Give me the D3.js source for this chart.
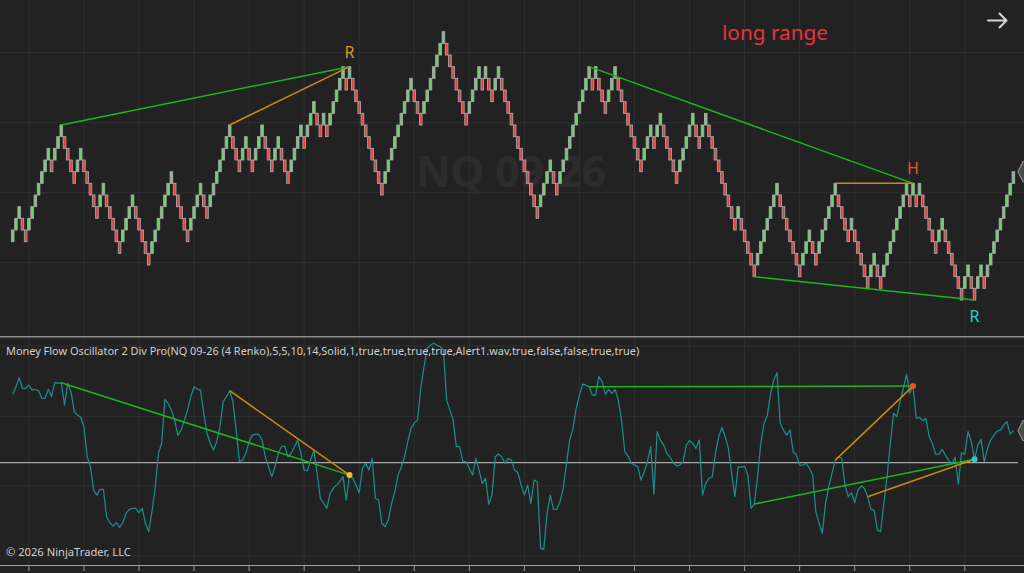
<!DOCTYPE html>
<html>
<head>
<meta charset="utf-8">
<script src="https://cdn.jsdelivr.net/npm/d3@7"></script>
<style>
  body { margin: 0; background: #222222; }
  svg { display: block; }
</style>
</head>
<body>
<svg id="chart" width="1024" height="573"></svg>
<script>
// renko brick tops (brick size = 1 level), one per bar
const brickTops = [
  91,92,93,92,91,92,93,94,95,96,97,98,97,98,99,100,99,98,97,96,
  97,98,97,96,95,94,93,94,95,94,93,92,91,90,91,92,93,94,93,92,
  91,90,89,90,91,92,93,94,95,96,95,94,93,92,91,92,93,94,95,94,
  93,94,95,96,97,98,99,100,99,98,97,98,99,98,97,98,99,100,99,98,
  97,98,99,98,97,96,97,98,99,100,99,100,101,102,101,100,101,100,101,102,
  103,104,105,104,105,104,103,102,101,100,99,98,97,96,95,96,97,98,99,100,
  101,102,103,104,103,102,101,102,103,104,105,106,107,108,107,106,105,104,103,102,
  101,102,103,104,105,104,105,104,103,104,105,104,103,102,101,100,99,98,97,96,
  95,94,93,94,95,96,97,96,95,96,97,98,99,100,101,102,103,104,105,104,
  105,104,103,102,103,104,105,104,103,102,101,100,99,98,97,98,99,100,99,100,
  101,100,99,98,97,96,97,98,99,100,101,100,99,100,101,100,99,98,97,96,
  95,94,93,92,93,92,91,90,89,88,89,90,91,92,93,94,95,94,93,92,
  91,90,89,88,89,90,91,90,89,90,91,92,93,94,95,94,93,92,91,92,
  91,90,89,88,87,88,89,88,87,88,89,90,91,92,93,94,95,94,95,94,
  95,94,93,92,91,90,91,92,91,90,89,88,87,86,87,88,87,86,87,88,
  87,88,89,90,91,92,93,94,95,96
];

// money flow oscillator, one value per bar
const oscValues = [
  34.2,38.0,42.5,37.2,37.2,38.8,36.3,36.7,36.0,32.2,
  32.2,36.7,33.0,40.2,39.7,40.0,28.8,39.7,35.5,25.5,
  23.8,22.7,18.0,3.0,-2.0,-13.7,-16.2,-13.3,-13.3,-27.0,
  -30.0,-31.7,-30.0,-32.3,-30.0,-25.3,-23.3,-22.8,-22.8,-25.0,
  -22.8,-30.3,-34.5,-24.5,-12.8,4.7,9.7,31.7,29.7,26.3,
  21.3,13.8,16.3,21.3,26.3,33.0,38.0,36.7,36.3,24.7,
  14.7,9.7,6.3,10.5,18.0,30.5,33.0,36.0,30.5,16.3,
  0.5,1.3,4.7,10.5,13.8,14.3,14.2,11.3,3.0,-2.0,
  -7.0,-2.0,4.7,8.0,8.3,3.0,4.7,8.0,11.3,4.7,
  -3.7,-4.0,1.3,6.3,-5.3,-17.8,-20.3,-22.8,-15.3,-12.8,
  -11.2,-9.5,-7.0,-18.7,-6.2,-7.8,-11.2,-15.0,-2.8,-0.3,
  -3.7,2.2,-17.8,-18.7,-30.3,-32.0,-28.7,-20.3,-14.5,-6.2,
  -2.0,3.0,10.5,17.2,19.7,21.3,37.2,48.0,57.2,58.8,
  59.7,58.8,58.0,56.3,31.3,26.3,21.3,8.0,8.0,0.5,
  0.5,-2.8,-6.2,2.2,-3.7,-10.3,-7.8,-20.7,-16.2,3.0,
  4.3,3.0,-0.3,2.2,1.3,-3.7,-5.0,-11.2,-16.2,-11.2,
  -20.3,-8.7,-9.5,-42.8,-43.3,-25.3,-16.2,-23.3,-23.3,-19.5,
  -12.8,-0.3,11.3,17.2,27.2,33.8,39.3,38.8,38.0,33.8,
  33.8,43.0,40.5,34.2,36.7,34.7,36.7,31.3,21.3,5.5,
  3.3,-0.3,-1.2,-2.0,-8.7,-4.5,0.5,8.0,-15.7,15.5,
  11.3,8.8,4.7,2.7,0.0,-1.7,-1.2,0.5,8.8,11.0,
  9.7,7.2,11.3,-16.2,-10.3,-7.8,-7.0,4.7,13.0,17.7,
  13.0,7.2,-5.3,-17.0,-2.0,-2.3,-1.7,-6.2,-22.8,-20.7,
  -7.0,9.7,19.7,23.5,34.3,41.3,45.0,19.7,16.3,13.8,
  16.3,5.5,3.8,-1.2,-1.2,-0.3,-2.8,-6.2,-24.5,-30.3,
  -35.3,-20.3,-12.0,-5.3,1.3,3.0,2.2,-11.2,-17.0,-15.0,
  -20.0,-13.7,-11.7,-12.8,-17.0,-23.3,-23.7,-33.7,-34.5,-20.3,
  -7.0,9.7,24.7,23.0,30.5,37.2,44.3,34.7,38.3,22.2,
  22.7,21.0,22.2,13.0,9.7,4.3,4.3,6.7,3.8,1.3,
  -0.7,2.7,-10.7,5.0,4.3,15.5,10.5,1.7,8.8,11.7,
  0.5,7.2,11.3,13.8,15.8,16.3,18.8,20.5,14.3,16.0
];

const timeGridBars = [6,23,40,57,74,91,108,125,142,159,176,193,210,227,244,261,278,295];
const priceGridLevels = [88.2, 94.2, 100.2, 106.2];
const oscGridLevels = [-46.65, -11.65, 23, 58.35];

// divergences: bar numbers (1-based)
const priceDivs = [
  {from: 16,  to: 105, kind: "regular", side: "high"},
  {from: 68,  to: 105, kind: "hidden",  side: "high"},
  {from: 179, to: 279, kind: "regular", side: "high"},
  {from: 255, to: 279, kind: "hidden",  side: "high"},
  {from: 230, to: 298, kind: "regular", side: "low"}
];
const oscDivs = [
  {from: 16,  to: 105, kind: "regular"},
  {from: 68,  to: 105, kind: "hidden"},
  {from: 179, to: 279, kind: "regular"},
  {from: 255, to: 279, kind: "hidden"},
  {from: 230, to: 298, kind: "regular"},
  {from: 265, to: 298, kind: "hidden"}
];
const signals = [
  {bar: 105, label: "R", type: "bearReg"},
  {bar: 279, label: "H", type: "bearHid"},
  {bar: 298, label: "R", type: "bullReg"}
];

const FONT = "'Noto Sans', 'Open Sans', sans-serif";
const divColor = {regular: "#1cb51c", hidden: "#c98a12"};
const sigColor = {bearReg: "#cf9a22", bearHid: "#f2541c", bullReg: "#22d2d2"};

const svg = d3.select("#chart");
const W = 1024, H = 573;

svg.append("rect").attr("width", W).attr("height", H).attr("fill", "#222222");

const x = d3.scaleLinear().domain([1, brickTops.length]).range([12.7, 1013.4]);
const yP = d3.scaleLinear().domain([100, 85]).range([125, 300]);
const yO = d3.scaleLinear().domain([0, 50]).range([462.7, 362.7]);

const topPanel = {y0: 0, y1: 335};
const oscPanel = {y0: 338, y1: 565};

const defs = svg.append("defs");
defs.append("clipPath").attr("id", "clipTop")
  .append("rect").attr("x", 0).attr("y", topPanel.y0).attr("width", W).attr("height", topPanel.y1 - topPanel.y0);
defs.append("clipPath").attr("id", "clipOsc")
  .append("rect").attr("x", 0).attr("y", oscPanel.y0).attr("width", W).attr("height", oscPanel.y1 - oscPanel.y0);

// grid
const grid = svg.append("g").attr("stroke", "#2f2f2f").attr("stroke-width", 1);
grid.selectAll(".vt").data(timeGridBars).enter().append("line")
  .attr("x1", d => x(d)).attr("x2", d => x(d))
  .attr("y1", topPanel.y0).attr("y2", topPanel.y1);
grid.selectAll(".vb").data(timeGridBars).enter().append("line")
  .attr("x1", d => x(d)).attr("x2", d => x(d))
  .attr("y1", oscPanel.y0).attr("y2", oscPanel.y1);
grid.selectAll(".hp").data(priceGridLevels).enter().append("line")
  .attr("x1", 0).attr("x2", W).attr("y1", d => yP(d)).attr("y2", d => yP(d));
grid.selectAll(".ho").data(oscGridLevels).enter().append("line")
  .attr("x1", 0).attr("x2", W).attr("y1", d => yO(d)).attr("y2", d => yO(d));

// watermark
const wm = svg.append("text")
  .attr("x", 511).attr("y", 186.5).attr("text-anchor", "middle")
  .attr("font-family", FONT).attr("font-weight", "bold").attr("font-size", 45)
  .attr("fill", "#2c2c2c").text("NQ 09-26");

function fitWidth(sel, w) {
  const len = sel.node().getComputedTextLength();
  const fs = parseFloat(sel.attr("font-size"));
  sel.attr("font-size", fs * w / len);
}
fitWidth(wm, 190);

// renko bricks
const bricks = brickTops.map((t, i) => ({
  bar: i + 1,
  top: t,
  up: i === 0 ? true : t > brickTops[i - 1]
}));

const brickG = svg.append("g").attr("clip-path", "url(#clipTop)");
brickG.selectAll("rect").data(bricks).enter().append("rect")
  .attr("x", d => x(d.bar) - 1.3)
  .attr("width", 2.6)
  .attr("y", d => yP(d.top))
  .attr("height", d => yP(d.top - 1) - yP(d.top))
  .attr("fill", d => d.up ? "#6ad46a" : "#f03838")
  .attr("stroke", "#a8a8a8")
  .attr("stroke-width", 0.9);

// price divergence lines
const priceAt = (bar, side) => side === "high" ? brickTops[bar - 1] : brickTops[bar - 1] - 1;
svg.append("g").selectAll("line").data(priceDivs).enter().append("line")
  .attr("x1", d => x(d.from)).attr("y1", d => yP(priceAt(d.from, d.side)))
  .attr("x2", d => x(d.to)).attr("y2", d => yP(priceAt(d.to, d.side)))
  .attr("stroke", d => divColor[d.kind]).attr("stroke-width", 1.5);

// signal labels on price
svg.append("g").selectAll("text").data(signals).enter().append("text")
  .attr("x", d => x(d.bar))
  .attr("y", d => d.type === "bullReg"
    ? yP(brickTops[d.bar - 1] - 1) + 22
    : yP(brickTops[d.bar - 1]) - 9)
  .attr("text-anchor", "middle")
  .attr("font-family", FONT).attr("font-size", 16)
  .attr("fill", d => sigColor[d.type])
  .text(d => d.label);

// long range text
const lr = svg.append("text")
  .attr("x", 722).attr("y", 39.5)
  .attr("font-family", FONT).attr("font-size", 21)
  .attr("fill", "#e8333c").text("long range");
fitWidth(lr, 106);

// arrow top right
svg.append("path")
  .attr("d", "M988,20.5 H1006 M999.5,13.5 L1006.5,20.5 L999.5,27.5")
  .attr("fill", "none").attr("stroke", "#d6d6d6").attr("stroke-width", 2)
  .attr("stroke-linecap", "round").attr("stroke-linejoin", "round");

// panel separator
svg.append("line").attr("x1", 0).attr("x2", W).attr("y1", 336.8).attr("y2", 336.8)
  .attr("stroke", "#8e8e8e").attr("stroke-width", 1.4);

// oscillator zero line
svg.append("line").attr("x1", 0).attr("x2", 1018).attr("y1", yO(0)).attr("y2", yO(0))
  .attr("stroke", "#a8a8a8").attr("stroke-width", 1.3);

// oscillator line
const oscLine = d3.line().x((d, i) => x(i + 1)).y(d => yO(d));
svg.append("path").datum(oscValues)
  .attr("clip-path", "url(#clipOsc)")
  .attr("d", oscLine)
  .attr("fill", "none").attr("stroke", "#1b8c8c").attr("stroke-width", 1.25)
  .attr("stroke-linejoin", "round");

// oscillator divergences
svg.append("g").selectAll("line").data(oscDivs).enter().append("line")
  .attr("x1", d => x(d.from)).attr("y1", d => yO(oscValues[d.from - 1]))
  .attr("x2", d => x(d.to)).attr("y2", d => yO(oscValues[d.to - 1]))
  .attr("stroke", d => divColor[d.kind]).attr("stroke-width", 1.5);

svg.append("g").selectAll("circle").data(signals).enter().append("circle")
  .attr("cx", d => x(d.bar)).attr("cy", d => yO(oscValues[d.bar - 1]))
  .attr("r", 3)
  .attr("fill", d => d.type === "bearReg" ? "#f2be2c" : sigColor[d.type]);

// last value markers at right edge
const lastBar = brickTops.length;
const markers = [yP(brickTops[lastBar - 1]), yO(oscValues[lastBar - 1])];
svg.append("g").selectAll("path").data(markers).enter().append("path")
  .attr("d", d => `M1026,${d - 10} L1023,${d - 10} L1018,${d} L1023,${d + 10} L1026,${d + 10} Z`)
  .attr("fill", "#4a4a4a").attr("stroke", "#8a8a8a").attr("stroke-width", 1.2);

// indicator label
const lbl = svg.append("text")
  .attr("x", 6).attr("y", 355)
  .attr("font-family", FONT).attr("font-size", 12)
  .attr("fill", "#cfcfcf")
  .text("Money Flow Oscillator 2 Div Pro(NQ 09-26 (4 Renko),5,5,10,14,Solid,1,true,true,true,true,Alert1.wav,true,false,false,true,true)");
fitWidth(lbl, 634);

// copyright
const cp = svg.append("text")
  .attr("x", 6).attr("y", 555.5)
  .attr("font-family", FONT).attr("font-size", 12.5)
  .attr("fill", "#cfcfcf")
  .text("\u00a9 2026 NinjaTrader, LLC");
fitWidth(cp, 125);

// bottom time axis
svg.append("line").attr("x1", 0).attr("x2", W).attr("y1", 565.5).attr("y2", 565.5)
  .attr("stroke", "#a0a0a0").attr("stroke-width", 1.2);
svg.append("g").selectAll("line").data(timeGridBars).enter().append("line")
  .attr("x1", d => x(d)).attr("x2", d => x(d))
  .attr("y1", 566).attr("y2", 571)
  .attr("stroke", "#a0a0a0").attr("stroke-width", 1);
</script>
</body>
</html>
